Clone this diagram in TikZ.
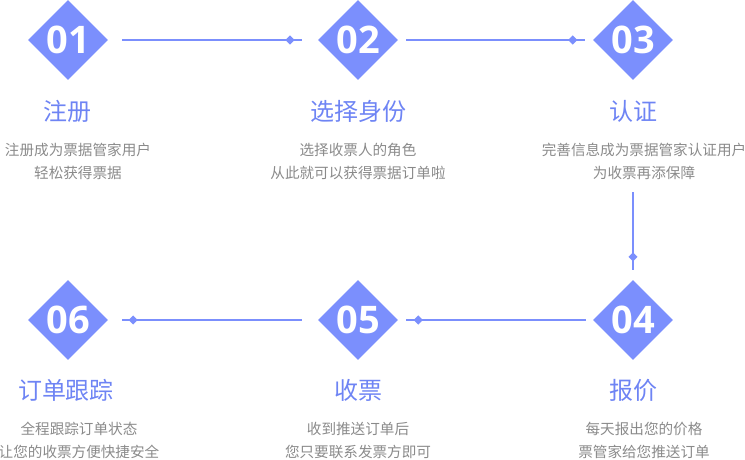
\documentclass[tikz,border=0pt]{standalone}
\usepackage{fontspec}
\newfontfamily\cjk{Noto Sans CJK SC}
\newfontfamily\numfont{Open Sans}
\usetikzlibrary{shapes.geometric}
\definecolor{accent}{HTML}{7B8FFD}
\definecolor{titleblue}{HTML}{6E84F4}
\definecolor{desc}{HTML}{8A8A8A}
\tikzset{
  stepdia/.style={shape=diamond, fill=accent, draw=none, inner sep=0pt,
    minimum width=80pt, minimum height=80pt, text=white,
    font=\numfont\bfseries\fontsize{38}{38}\selectfont},
  steptitle/.style={text=titleblue, inner sep=0pt, font=\cjk\fontsize{24}{24}\selectfont},
  stepdesc/.style={text=desc, inner sep=0pt, align=center, font=\cjk\fontsize{14.6}{23.5}\selectfont},
  link/.style={draw=accent, line width=2pt},
  marker/.style={shape=diamond, fill=accent, inner sep=0pt, minimum width=10pt, minimum height=10pt}
}
\begin{document}
\begin{tikzpicture}[x=1pt, y=-1pt]
\useasboundingbox (0,0) rectangle (745,460);

% step badges
\node[stepdia] (d1) at (68,40) {01};
\node[stepdia] (d2) at (358,40) {02};
\node[stepdia] (d3) at (633,40) {03};
\node[stepdia] (d4) at (633,320) {04};
\node[stepdia] (d5) at (358,320) {05};
\node[stepdia] (d6) at (68,320) {06};

% connectors between the steps
\draw[link, shorten <=14pt, shorten >=16pt] (d1) -- (d2) node[marker, pos=0.867] (m1) {};
\draw[link, shorten <=8pt, shorten >=8pt] (d2) -- (d3) node[marker, pos=0.897] (m2) {};
\draw[link, shorten <=112pt, shorten >=10pt] (d3) -- (d4) node[marker, pos=0.885] (m3) {};
\draw[link, shorten <=7pt, shorten >=8pt] (d4) -- (d5) node[marker, pos=0.897] (m4) {};
\draw[link, shorten <=16pt, shorten >=14pt] (d5) -- (d6) node[marker, pos=0.881] (m5) {};

% titles
\node[steptitle] (t1) at (67,111) {注册};
\node[steptitle] (t2) at (358,111) {选择身份};
\node[steptitle] (t3) at (633,111) {认证};
\node[steptitle] (t4) at (633,390) {报价};
\node[steptitle] (t5) at (358,390) {收票};
\node[steptitle] (t6) at (66,390) {订单跟踪};

% descriptions
\node[stepdesc] (s1) at (78,161.5) {注册成为票据管家用户\\轻松获得票据};
\node[stepdesc] (s2) at (358,161.5) {选择收票人的角色\\从此就可以获得票据订单啦};
\node[stepdesc] (s3) at (644,161.5) {完善信息成为票据管家认证用户\\为收票再添保障};
\node[stepdesc] (s4) at (644,440.5) {每天报出您的价格\\票管家给您推送订单};
\node[stepdesc] (s5) at (358,440.5) {收到推送订单后\\您只要联系发票方即可};
\node[stepdesc] (s6) at (79,440.5) {全程跟踪订单状态\\让您的收票方便快捷安全};
\end{tikzpicture}
\end{document}
